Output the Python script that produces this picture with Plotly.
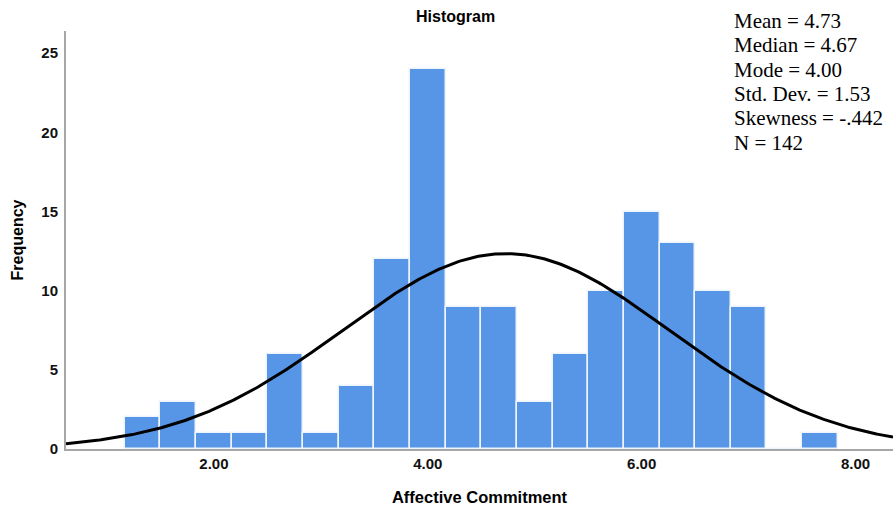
import numpy as np
import plotly.graph_objects as go

# Histogram bins (width 1/3) and their frequencies
bin_width = 1 / 3
bin_centers = [4/3, 5/3, 6/3, 7/3, 8/3, 9/3, 10/3, 11/3, 12/3, 13/3, 14/3,
               15/3, 16/3, 17/3, 18/3, 19/3, 20/3, 21/3, 22/3, 23/3]
frequencies = [2, 3, 1, 1, 6, 1, 4, 12, 24, 9, 9,
               3, 6, 10, 15, 13, 10, 9, 0, 1]

# Descriptive statistics
mean_val = 4.73
median_val = 4.67
mode_val = 4.00
std_val = 1.53
skew_val = -0.442
n_val = 142

x_tickvals = [2, 4, 6, 8]
x_ticktext = ["2.00", "4.00", "6.00", "8.00"]
y_tickvals = [0, 5, 10, 15, 20, 25]

x_range = [0.617, 8.35]
y_range = [0, 26.4]

# Normal curve scaled to the histogram counts
xs = np.linspace(x_range[0], x_range[1], 400)
ys = n_val * bin_width / (std_val * np.sqrt(2 * np.pi)) * np.exp(-0.5 * ((xs - mean_val) / std_val) ** 2)

fig = go.Figure()
fig.add_trace(go.Bar(
    x=bin_centers, y=frequencies, width=bin_width,
    marker=dict(color="#5796e6", line=dict(color="#eef4fc", width=1.5)),
    showlegend=False,
))
fig.add_trace(go.Scatter(
    x=xs, y=ys, mode="lines",
    line=dict(color="black", width=3),
    showlegend=False,
))

W, H = 893, 507
ml, mr, mt, mb = 66, 0, 31, 58
plot_h = H - mt - mb

fig.update_layout(
    width=W, height=H,
    margin=dict(l=ml, r=mr, t=mt, b=mb),
    paper_bgcolor="white", plot_bgcolor="white",
    bargap=0,
    font=dict(family="Liberation Sans, Arial", color="black"),
    xaxis=dict(
        range=x_range, tickvals=x_tickvals, ticktext=x_ticktext,
        showgrid=False, zeroline=False, showline=True,
        linecolor="#a6a6a6", linewidth=2, ticks="",
        tickfont=dict(size=15, weight="bold", color="#111111"),
        title=dict(text="Affective Commitment", font=dict(size=16.5, weight="bold"), standoff=20),
    ),
    yaxis=dict(
        range=y_range, tickvals=y_tickvals,
        showgrid=False, zeroline=False, showline=True,
        linecolor="#a6a6a6", linewidth=2, ticks="",
        tickfont=dict(size=15, weight="bold", color="#111111"), ticklabelstandoff=3,
        title=dict(text="Frequency", font=dict(size=16, weight="bold"), standoff=14),
    ),
)

# Title
fig.add_annotation(
    text="<b>Histogram</b>", xref="paper", yref="paper",
    x=(455 - ml) / (W - ml - mr), y=(H - mb - 17) / plot_h,
    xanchor="center", yanchor="middle", showarrow=False,
    font=dict(size=16, color="black"),
)

# Statistics box
stats_lines = [
    f"Mean = {mean_val:.2f}",
    f"Median = {median_val:.2f}",
    f"Mode = {mode_val:.2f}",
    f"Std. Dev. = {std_val:.2f}",
    f"Skewness = {skew_val:.3f}".replace("-0.", "-."),
    f"N = {n_val}",
]
for i, line in enumerate(stats_lines):
    cy = 21 + i * 24.3
    fig.add_annotation(
        text=line, xref="paper", yref="paper",
        x=(732 - ml) / (W - ml - mr), y=(H - mb - cy) / plot_h,
        xanchor="left", yanchor="middle", showarrow=False,
        font=dict(size=21, family="Liberation Serif, Times New Roman", color="black"),
    )

fig.write_html("out.html")
